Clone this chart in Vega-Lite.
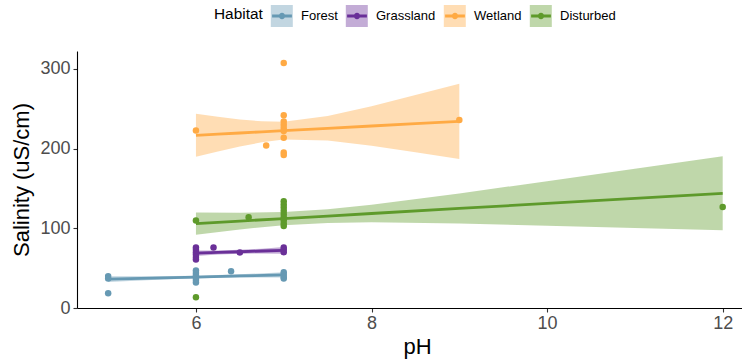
{
  "$schema": "https://vega.github.io/schema/vega-lite/v6.json",
  "width": 665,
  "height": 257,
  "autosize": {"type": "none"},
  "padding": {"left": 77, "top": 51, "right": 0, "bottom": 52},
  "background": "white",
  "datasets": {
    "points": [
      {"Habitat": "Forest", "pH": 5, "Salinity": 40},
      {"Habitat": "Forest", "pH": 5, "Salinity": 37},
      {"Habitat": "Forest", "pH": 5, "Salinity": 18.4},
      {"Habitat": "Forest", "pH": 6, "Salinity": 47},
      {"Habitat": "Forest", "pH": 6, "Salinity": 44},
      {"Habitat": "Forest", "pH": 6, "Salinity": 41},
      {"Habitat": "Forest", "pH": 6, "Salinity": 38},
      {"Habitat": "Forest", "pH": 6, "Salinity": 35},
      {"Habitat": "Forest", "pH": 6, "Salinity": 32},
      {"Habitat": "Forest", "pH": 6.4, "Salinity": 46},
      {"Habitat": "Forest", "pH": 7, "Salinity": 45},
      {"Habitat": "Forest", "pH": 7, "Salinity": 42},
      {"Habitat": "Forest", "pH": 7, "Salinity": 39},
      {"Habitat": "Forest", "pH": 7, "Salinity": 37},
      {"Habitat": "Grassland", "pH": 6, "Salinity": 76},
      {"Habitat": "Grassland", "pH": 6, "Salinity": 73},
      {"Habitat": "Grassland", "pH": 6, "Salinity": 70},
      {"Habitat": "Grassland", "pH": 6, "Salinity": 67},
      {"Habitat": "Grassland", "pH": 6, "Salinity": 64},
      {"Habitat": "Grassland", "pH": 6, "Salinity": 61},
      {"Habitat": "Grassland", "pH": 6.2, "Salinity": 75.8},
      {"Habitat": "Grassland", "pH": 6.5, "Salinity": 69.7},
      {"Habitat": "Grassland", "pH": 7, "Salinity": 76},
      {"Habitat": "Grassland", "pH": 7, "Salinity": 73},
      {"Habitat": "Grassland", "pH": 7, "Salinity": 70},
      {"Habitat": "Wetland", "pH": 6, "Salinity": 222.6},
      {"Habitat": "Wetland", "pH": 6.8, "Salinity": 203.8},
      {"Habitat": "Wetland", "pH": 7, "Salinity": 307.4},
      {"Habitat": "Wetland", "pH": 7, "Salinity": 241.8},
      {"Habitat": "Wetland", "pH": 7, "Salinity": 234},
      {"Habitat": "Wetland", "pH": 7, "Salinity": 230},
      {"Habitat": "Wetland", "pH": 7, "Salinity": 226},
      {"Habitat": "Wetland", "pH": 7, "Salinity": 222},
      {"Habitat": "Wetland", "pH": 7, "Salinity": 213.5},
      {"Habitat": "Wetland", "pH": 7, "Salinity": 195},
      {"Habitat": "Wetland", "pH": 7, "Salinity": 192},
      {"Habitat": "Wetland", "pH": 9, "Salinity": 236},
      {"Habitat": "Disturbed", "pH": 6, "Salinity": 109.7},
      {"Habitat": "Disturbed", "pH": 6, "Salinity": 13.4},
      {"Habitat": "Disturbed", "pH": 6.6, "Salinity": 113.8},
      {"Habitat": "Disturbed", "pH": 7, "Salinity": 134},
      {"Habitat": "Disturbed", "pH": 7, "Salinity": 130},
      {"Habitat": "Disturbed", "pH": 7, "Salinity": 126},
      {"Habitat": "Disturbed", "pH": 7, "Salinity": 122},
      {"Habitat": "Disturbed", "pH": 7, "Salinity": 118},
      {"Habitat": "Disturbed", "pH": 7, "Salinity": 114},
      {"Habitat": "Disturbed", "pH": 7, "Salinity": 110},
      {"Habitat": "Disturbed", "pH": 7, "Salinity": 106},
      {"Habitat": "Disturbed", "pH": 7, "Salinity": 103},
      {"Habitat": "Disturbed", "pH": 12, "Salinity": 126.7}
    ],
    "fits": [
      {"Habitat": "Forest", "pH": 5, "fit": 36.2, "lo": 32.7, "hi": 39.7},
      {"Habitat": "Forest", "pH": 5.5, "fit": 37.5, "lo": 35.2, "hi": 39.8},
      {"Habitat": "Forest", "pH": 6, "fit": 38.8, "lo": 37.2, "hi": 40.4},
      {"Habitat": "Forest", "pH": 6.5, "fit": 40.2, "lo": 38.2, "hi": 42.2},
      {"Habitat": "Forest", "pH": 7, "fit": 41.6, "lo": 38.4, "hi": 44.8},
      {"Habitat": "Grassland", "pH": 6, "fit": 68.8, "lo": 65.3, "hi": 72.3},
      {"Habitat": "Grassland", "pH": 6.25, "fit": 69.7, "lo": 67.1, "hi": 72.3},
      {"Habitat": "Grassland", "pH": 6.5, "fit": 70.6, "lo": 68.2, "hi": 73.0},
      {"Habitat": "Grassland", "pH": 6.75, "fit": 71.5, "lo": 68.5, "hi": 74.5},
      {"Habitat": "Grassland", "pH": 7, "fit": 72.4, "lo": 68.2, "hi": 76.6},
      {"Habitat": "Wetland", "pH": 6, "fit": 216.7, "lo": 189.7, "hi": 243.7},
      {"Habitat": "Wetland", "pH": 6.25, "fit": 218.2, "lo": 196.4, "hi": 240.0},
      {"Habitat": "Wetland", "pH": 6.5, "fit": 219.6, "lo": 202.6, "hi": 236.6},
      {"Habitat": "Wetland", "pH": 6.75, "fit": 221.1, "lo": 208.0, "hi": 234.2},
      {"Habitat": "Wetland", "pH": 7, "fit": 222.6, "lo": 211.5, "hi": 233.7},
      {"Habitat": "Wetland", "pH": 7.5, "fit": 225.5, "lo": 210.2, "hi": 240.8},
      {"Habitat": "Wetland", "pH": 8, "fit": 228.4, "lo": 203.5, "hi": 253.3},
      {"Habitat": "Wetland", "pH": 8.5, "fit": 231.4, "lo": 195.6, "hi": 267.2},
      {"Habitat": "Wetland", "pH": 9, "fit": 234.3, "lo": 187.1, "hi": 281.5},
      {"Habitat": "Disturbed", "pH": 6, "fit": 105.9, "lo": 91.9, "hi": 119.9},
      {"Habitat": "Disturbed", "pH": 6.5, "fit": 109.1, "lo": 98.6, "hi": 119.6},
      {"Habitat": "Disturbed", "pH": 7, "fit": 112.2, "lo": 103.9, "hi": 120.5},
      {"Habitat": "Disturbed", "pH": 7.5, "fit": 115.4, "lo": 106.8, "hi": 124.0},
      {"Habitat": "Disturbed", "pH": 8, "fit": 118.6, "lo": 107.5, "hi": 129.7},
      {"Habitat": "Disturbed", "pH": 9, "fit": 124.9, "lo": 106.0, "hi": 143.8},
      {"Habitat": "Disturbed", "pH": 10, "fit": 131.2, "lo": 103.3, "hi": 159.1},
      {"Habitat": "Disturbed", "pH": 11, "fit": 137.6, "lo": 100.5, "hi": 174.7},
      {"Habitat": "Disturbed", "pH": 12, "fit": 143.9, "lo": 97.5, "hi": 190.3}
    ]
  },
  "encoding": {
    "x": {
      "field": "pH", "type": "quantitative",
      "scale": {"domain": [4.645, 12.22], "nice": false, "zero": false},
      "axis": {"values": [6, 8, 10, 12], "title": "pH", "titleX": 340}
    }
  },
  "layer": [
    {
      "data": {"name": "fits"},
      "mark": {"type": "area", "opacity": 0.4},
      "encoding": {
        "y": {"field": "lo", "type": "quantitative",
          "scale": {"domain": [0, 322.5], "nice": false, "zero": false},
          "axis": {"values": [0, 100, 200, 300], "title": "Salinity (uS/cm)"}},
        "y2": {"field": "hi"},
        "fill": {
          "field": "Habitat", "type": "nominal",
          "scale": {"domain": ["Forest", "Grassland", "Wetland", "Disturbed"], "range": ["#6699B3", "#6A3098", "#FFAA44", "#5E9A2B"]},
          "legend": {"title": null, "orient": "none", "legendX": 193.8, "legendY": -46, "direction": "horizontal",
            "symbolType": "square", "symbolSize": 484, "symbolOpacity": 0.4, "symbolStrokeWidth": 0,
            "labelOpacity": 0}
        }
      }
    },
    {
      "data": {"name": "fits"},
      "mark": {"type": "line", "strokeWidth": 2.8},
      "encoding": {
        "y": {"field": "fit", "type": "quantitative"},
        "color": {
          "field": "Habitat", "type": "nominal",
          "scale": {"domain": ["Forest", "Grassland", "Wetland", "Disturbed"], "range": ["#6699B3", "#6A3098", "#FFAA44", "#5E9A2B"]},
          "legend": {"orient": "none", "legendX": 137, "legendY": -46, "direction": "horizontal", "titleOrient": "left",
            "symbolType": "M-0.9,-0.13H0.9V0.13H-0.9Z M-0.29,0A0.29,0.29 0 1,1 0.29,0A0.29,0.29 0 1,1 -0.29,0Z",
            "symbolSize": 484, "symbolStrokeWidth": 0, "symbolOpacity": 1}
        }
      }
    },
    {
      "data": {"name": "points"},
      "mark": {"type": "circle", "size": 42, "opacity": 1},
      "encoding": {
        "y": {"field": "Salinity", "type": "quantitative"},
        "color": {"field": "Habitat", "type": "nominal"}
      }
    }
  ],
  "resolve": {"legend": {"fill": "independent"}},
  "config": {
    "view": {"stroke": null},
    "font": "Liberation Sans",
    "axis": {
      "grid": false,
      "domainColor": "#000000",
      "domainWidth": 1.1,
      "tickColor": "#333333",
      "tickWidth": 1.1,
      "tickSize": 4,
      "labelFont": "Liberation Sans",
      "labelFontSize": 18,
      "labelColor": "#4D4D4D",
      "labelPadding": 3,
      "titleFont": "Liberation Sans",
      "titleFontSize": 22,
      "titleFontWeight": "normal",
      "titleColor": "#000000"
    },
    "axisX": {"labelPadding": 2, "titlePadding": 4},
    "axisY": {"titlePadding": 6},
    "legend": {
      "padding": 0,
      "labelFont": "Liberation Sans",
      "labelFontSize": 13,
      "labelColor": "#000000",
      "labelOffset": 8,
      "columnPadding": 8,
      "titleFont": "Liberation Sans",
      "titleFontSize": 15.4,
      "titleFontWeight": "normal",
      "titleColor": "#000000",
      "titlePadding": 8
    }
  }
}
